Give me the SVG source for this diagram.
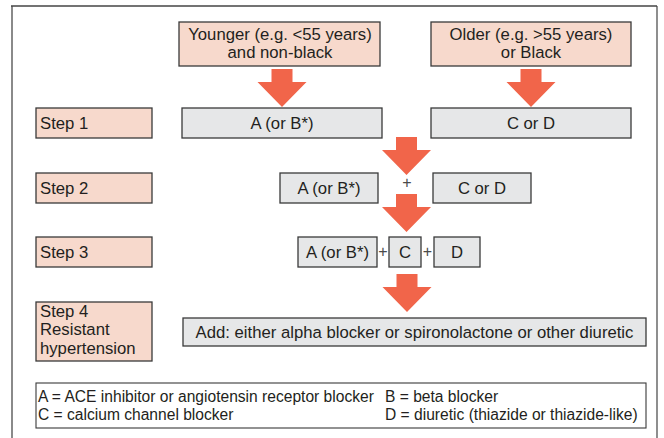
<svg xmlns="http://www.w3.org/2000/svg" width="664" height="438" viewBox="0 0 664 438">
<style>
  text { font-family: "Liberation Sans", Arial, sans-serif; fill: #231f20; }
  .t { font-size: 16.7px; }
  .c { text-anchor: middle; }
  .lg { font-size: 15.6px; }
  .pl { font-size: 16px; fill: #4a4a4a; text-anchor: middle; }
  .pink { fill: #f7d9cc; stroke: #3a3a3a; stroke-width: 1.3; }
  .gray { fill: #e6e7e8; stroke: #3a3a3a; stroke-width: 1.3; }
  .leg { fill: #ffffff; stroke: #3a3a3a; stroke-width: 1.1; }
  .arrow { fill: #f1654a; }
</style>
<defs>
  <path id="arr" d="M-10.5,0 H10.5 V13 H24.5 L0,38 L-24.5,13 H-10.5 Z"/>
</defs>
<rect x="0" y="0" width="664" height="438" fill="#ffffff"/>
<g id="frame">
  <line x1="12" y1="6" x2="12" y2="438" stroke="#8a8a8a" stroke-width="2"/>
  <line x1="11" y1="6" x2="657" y2="6" stroke="#444" stroke-width="1.4"/>
  <line x1="657" y1="6" x2="657" y2="438" stroke="#444" stroke-width="1.2"/>
</g>
<g id="younger">
  <rect class="pink" x="179" y="22" width="201" height="44"/>
  <text class="t c" x="280" y="39.5">Younger (e.g. &lt;55 years)</text>
  <text class="t c" x="280" y="57.5">and non-black</text>
</g>
<g id="older">
  <rect class="pink" x="431" y="22" width="200" height="44"/>
  <text class="t c" x="531" y="39.5">Older (e.g. &gt;55 years)</text>
  <text class="t c" x="531" y="57.5">or Black</text>
</g>
<g id="step1">
  <rect class="pink" x="36" y="108" width="116" height="30"/>
  <text class="t" x="40" y="129">Step 1</text>
</g>
<g id="s1a">
  <rect class="gray" x="182" y="108" width="200" height="30"/>
  <text class="t c" x="282" y="129">A (or B*)</text>
</g>
<g id="s1c">
  <rect class="gray" x="431" y="108" width="200" height="30"/>
  <text class="t c" x="531" y="129">C or D</text>
</g>
<g id="step2">
  <rect class="pink" x="36" y="173" width="116" height="30"/>
  <text class="t" x="40" y="194">Step 2</text>
</g>
<g id="s2a">
  <rect class="gray" x="280" y="173" width="98" height="30"/>
  <text class="t c" x="329" y="194">A (or B*)</text>
</g>
<g id="s2c">
  <rect class="gray" x="433" y="173" width="98" height="30"/>
  <text class="t c" x="482" y="194">C or D</text>
</g>
<g id="step3">
  <rect class="pink" x="36" y="237" width="116" height="30"/>
  <text class="t" x="40" y="258">Step 3</text>
</g>
<g id="s3a">
  <rect class="gray" x="298" y="237" width="79" height="30"/>
  <text class="t c" x="337.5" y="258">A (or B*)</text>
</g>
<g id="s3c">
  <rect class="gray" x="389" y="237" width="32" height="30"/>
  <text class="t c" x="405" y="258">C</text>
</g>
<g id="s3d">
  <rect class="gray" x="434" y="237" width="46" height="30"/>
  <text class="t c" x="457" y="258">D</text>
</g>
<g id="step4">
  <rect class="pink" x="36" y="302" width="116" height="59"/>
  <text class="t" x="40" y="316.5">Step 4</text>
  <text class="t" x="40" y="335">Resistant</text>
  <text class="t" x="40" y="353.5">hypertension</text>
</g>
<g id="s4add">
  <rect class="gray" x="183" y="318" width="463" height="28"/>
  <text class="t c" x="414.5" y="338">Add: either alpha blocker or spironolactone or other diuretic</text>
</g>
<g id="legend">
  <rect class="leg" x="36" y="383" width="610" height="45"/>
  <text class="lg" x="38" y="401.5">A = ACE inhibitor or angiotensin receptor blocker</text>
  <text class="lg" x="385" y="401.5">B = beta blocker</text>
  <text class="lg" x="38" y="419.5">C = calcium channel blocker</text>
  <text class="lg" x="385" y="419.5">D = diuretic (thiazide or thiazide-like)</text>
</g>
<g id="connectors">
  <use href="#arr" class="arrow" x="282" y="69"/>
  <use href="#arr" class="arrow" x="531" y="69"/>
  <use href="#arr" class="arrow" x="406.5" y="137"/>
  <use href="#arr" class="arrow" x="406.5" y="194"/>
  <use href="#arr" class="arrow" x="407" y="274"/>
  <text class="pl" x="407" y="188">+</text>
  <text class="pl" x="383" y="257">+</text>
  <text class="pl" x="427.5" y="257">+</text>
</g>
</svg>
